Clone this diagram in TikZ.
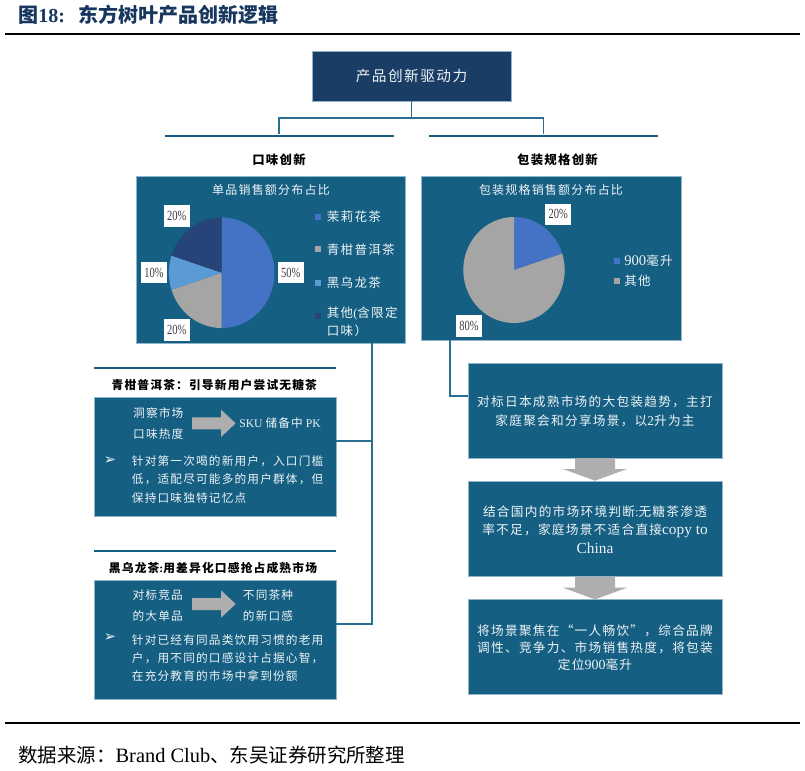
\documentclass[tikz,border=0pt]{standalone}
\usepackage{fontspec}
\usetikzlibrary{fit}
\setmainfont{Noto Sans CJK SC}[LetterSpace=10]
\newfontfamily\cjktight{Noto Sans CJK SC}
\newfontfamily\lat{Liberation Serif}
\newfontfamily\latnarrow{Liberation Serif}[FakeStretch=0.75]
\newfontfamily\sym{DejaVu Sans}
\definecolor{tealbox}{HTML}{155F82}
\definecolor{navybox}{HTML}{193D64}
\definecolor{edgeblue}{HTML}{8DB6CB}
\definecolor{linkblue}{HTML}{2A6F91}
\definecolor{titlenavy}{HTML}{17375E}
\definecolor{softwhite}{HTML}{EEF3F7}
\definecolor{arrowgray}{HTML}{AEAEAE}
\definecolor{pieblue}{HTML}{4472C4}
\definecolor{piegray}{HTML}{A5A5A5}
\definecolor{pielight}{HTML}{5B9BD5}
\definecolor{piedark}{HTML}{264478}
\tikzset{
  panel/.style={rectangle,fill=tealbox,draw=edgeblue,line width=0.4pt,inner sep=0pt,outer sep=0pt},
  bar/.style={rectangle,fill=tealbox,inner sep=0pt,outer sep=0pt},
  link/.style={draw=linkblue,line width=0.8pt},
  head/.style={font=\bfseries\fontsize{8.8}{12}\selectfont,inner sep=0pt},
  ptitle/.style={text=softwhite,font=\fontsize{9}{12}\selectfont,inner sep=0pt},
  legend/.style={text=softwhite,font=\fontsize{9.4}{13.5}\selectfont,inner sep=0pt,anchor=west,align=left},
  pielabel/.style={fill=white,text=black!75,font=\latnarrow\fontsize{10.5}{12}\selectfont,inner sep=0pt,minimum width=19.5pt,minimum height=16pt},
  lefttext/.style={text=softwhite,font=\fontsize{8.75}{13.7}\selectfont,inner sep=0pt,anchor=west,align=left},
  midtext/.style={text=softwhite,font=\fontsize{8.75}{15.8}\selectfont,inner sep=0pt,align=center},
  righttext/.style={text=softwhite,font=\fontsize{9.5}{14}\selectfont,inner sep=0pt,align=center},
  blockfill/.style={fill=arrowgray}
}
\begin{document}
\begin{tikzpicture}[x=0.75pt,y=-0.75pt]
\useasboundingbox (0,0) rectangle (805,770);
% title and rules
\node (title) [anchor=west,inner sep=0pt,text=titlenavy,font=\bfseries\cjktight\fontsize{15}{18}\selectfont] at (18,15) {图{\lat 18:}\hspace{10pt}东方树叶产品创新逻辑};
\coordinate (ruleTopL) at (5,34.5);
\coordinate (ruleTopR) at (800,34.5);
\coordinate (ruleBotL) at (5,723);
\coordinate (ruleBotR) at (800,723);
\draw[line width=1.5pt] (ruleTopL)--(ruleTopR);
\draw[line width=1.5pt] (ruleBotL)--(ruleBotR);
\node (source) [anchor=west,inner sep=0pt,font=\cjktight\fontsize{14.6}{18}\selectfont] at (18,755) {数据来源：{\lat\fontsize{15.3}{18}\selectfont Brand Club}、东吴证券研究所整理};
% top of the tree
\node (drive) [panel,fill=navybox,fit={(312,51)(511,101)}] {};
\node (drivetext) [text=softwhite,font=\fontsize{11}{14}\selectfont,inner sep=0pt] at (drive.center) {产品创新驱动力};
\node (barL) [bar,fit={(165,135.4)(394,136.9)}] {};
\node (barR) [bar,fit={(428.5,135.4)(658,136.9)}] {};
\coordinate (fork) at (411.5,118);
\coordinate (forkL) at (279,134);
\coordinate (forkR) at (543.5,134);
\draw[link] (drive.south -| fork)--(fork);
\draw[link] (forkL)|-(fork)-|(forkR);
\node (flavor) [head,font=\bfseries\fontsize{9.3}{12}\selectfont] at (279,160) {口味创新};
\node (pack) [head,font=\bfseries\fontsize{9.3}{12}\selectfont] at (557.5,160) {包装规格创新};
% left pie
\node (flavorpanel) [panel,fit={(136,176)(405,343)}] {};
\node (flavortitle) [ptitle] at (271,190) {单品销售额分布占比};
\foreach \a/\b/\c in {-90/90/pieblue,90/162/piegray,162/198/pielight,198/270/piedark}
  \fill[\c] (221.7,272.7)--++(\a:52.8 and 55.3) arc[start angle=\a,end angle=\b,x radius=52.8,y radius=55.3]--cycle;
\node (flavorA) [pielabel] at (290.7,272.7) {50\%};
\node (flavorB) [pielabel] at (176.7,330) {20\%};
\node (flavorC) [pielabel] at (154,272.7) {10\%};
\node (flavorD) [pielabel] at (176.7,216) {20\%};
\foreach \y/\c/\t in {216.7/pieblue/茉莉花茶,249.3/piegray/青柑普洱茶,282.7/pielight/黑乌龙茶}{
  \fill[\c] (315.3,\y-3) rectangle (321.3,\y+3);
  \node[legend] at (326.7,\y) {\t};
}
\fill[piedark] (315.3,313) rectangle (321.3,319);
\node (otherlegend) [legend,anchor=north west] at (326.7,307) {其他{\lat(}含限定\\口味）};
% right pie
\node (packpanel) [panel,fit={(421,176)(681,340)}] {};
\node (packtitle) [ptitle] at (551,190) {包装规格销售额分布占比};
\foreach \a/\b/\c in {-90/-18/pieblue,-18/270/piegray}
  \fill[\c] (514,270)--++(\a:50.7 and 53) arc[start angle=\a,end angle=\b,x radius=50.7,y radius=53]--cycle;
\node (packA) [pielabel] at (558.3,214.3) {20\%};
\node (packB) [pielabel] at (469,326) {80\%};
\fill[pieblue] (614,257.7) rectangle (620,263.7);
\fill[piegray] (614,278) rectangle (620,284);
\node (packlegendA) [legend] at (624,260.7) {{\lat\fontsize{11}{13}\selectfont 900}毫升};
\node (packlegendB) [legend] at (624,281) {其他};
% left column
\node (barA) [bar,fit={(94,367)(336,369)}] {};
\node (puerhead) [head] at (214.3,385) {青柑普洱茶：引导新用户尝试无糖茶};
\node (puerbox) [panel,fit={(94,397)(336,516)}] {};
\node (puerA) [midtext] at (158.3,423.3) {洞察市场\\口味热度};
\node (puerB) [midtext] at (280,423.3) {{\lat SKU }储备中{\lat\ PK}};
\node (puerdot) [text=softwhite,font=\sym\fontsize{11}{12}\selectfont,inner sep=0pt] at (110,461) {➢};
\node (puertext) [lefttext] at (131.7,479.5) {针对第一次喝的新用户，入口门槛\\低，适配尽可能多的用户群体，但\\保持口味独特记忆点};
\node (barB) [bar,fit={(94,550)(336,552)}] {};
\node (oolonghead) [head] at (213,568) {黑乌龙茶{\lat:}用差异化口感抢占成熟市场};
\node (oolongbox) [panel,fit={(94,580)(336,699)}] {};
\node (oolongA) [midtext] at (157.7,605.5) {对标竞品\\的大单品};
\node (oolongB) [midtext] at (268,605.5) {不同茶种\\的新口感};
\node (oolongdot) [text=softwhite,font=\sym\fontsize{11}{12}\selectfont,inner sep=0pt] at (110,638) {➢};
\node (oolongtext) [lefttext] at (131.7,658) {针对已经有同品类饮用习惯的老用\\户，用不同的口感设计占据心智，\\在充分教育的市场中拿到份额};
\foreach \ay in {423.3,604}
  \fill[blockfill] (192,\ay-6)--(221,\ay-6)--(221,\ay-13.7)--(235.7,\ay)--(221,\ay+13.7)--(221,\ay+6)--(192,\ay+6)--cycle;
\coordinate (flavortap) at (372,441);
\coordinate (flavorend) at (372,624);
\draw[link] (flavorpanel.south -| flavortap)--(flavorend)--(oolongbox.east |- flavorend);
\draw[link] (puerbox.east |- flavortap)--(flavortap);
% right column
\node (japanbox) [panel,fit={(468,363.5)(722,458)}] {};
\node (japantext) [righttext,font=\fontsize{9.5}{14}\selectfont] at (595,411) {对标日本成熟市场的大包装趋势，主打\\家庭聚会和分享场景，以{\lat\fontsize{10}{14}\selectfont 2}升为主};
\node (chinabox) [panel,fit={(468,481.5)(722,576.7)}] {};
\node (chinatext) [righttext] at (595,529.5) {结合国内的市场环境判断{\lat:}无糖茶渗透\\率不足，家庭场景不适合直接{\lat\fontsize{11.5}{14}\selectfont copy to}\\{\lat\fontsize{11.5}{14}\selectfont China}};
\node (singlebox) [panel,fit={(468,599.5)(722,694.7)}] {};
\node (singletext) [righttext,font=\fontsize{9.5}{12.5}\selectfont] at (595,647.5) {将场景聚焦在“一人畅饮”，综合品牌\\调性、竞争力、市场销售热度，将包装\\定位{\lat\fontsize{10.5}{12.5}\selectfont 900}毫升};
\foreach \ay in {458,576.7}
  \fill[blockfill] (575,\ay)--(615,\ay)--(615,\ay+11)--(627,\ay+11)--(595,\ay+22.7)--(563,\ay+11)--(575,\ay+11)--cycle;
\coordinate (packend) at (450,396);
\draw[link] (packpanel.south -| packend)--(packend)--(japanbox.west |- packend);
\end{tikzpicture}
\end{document}
